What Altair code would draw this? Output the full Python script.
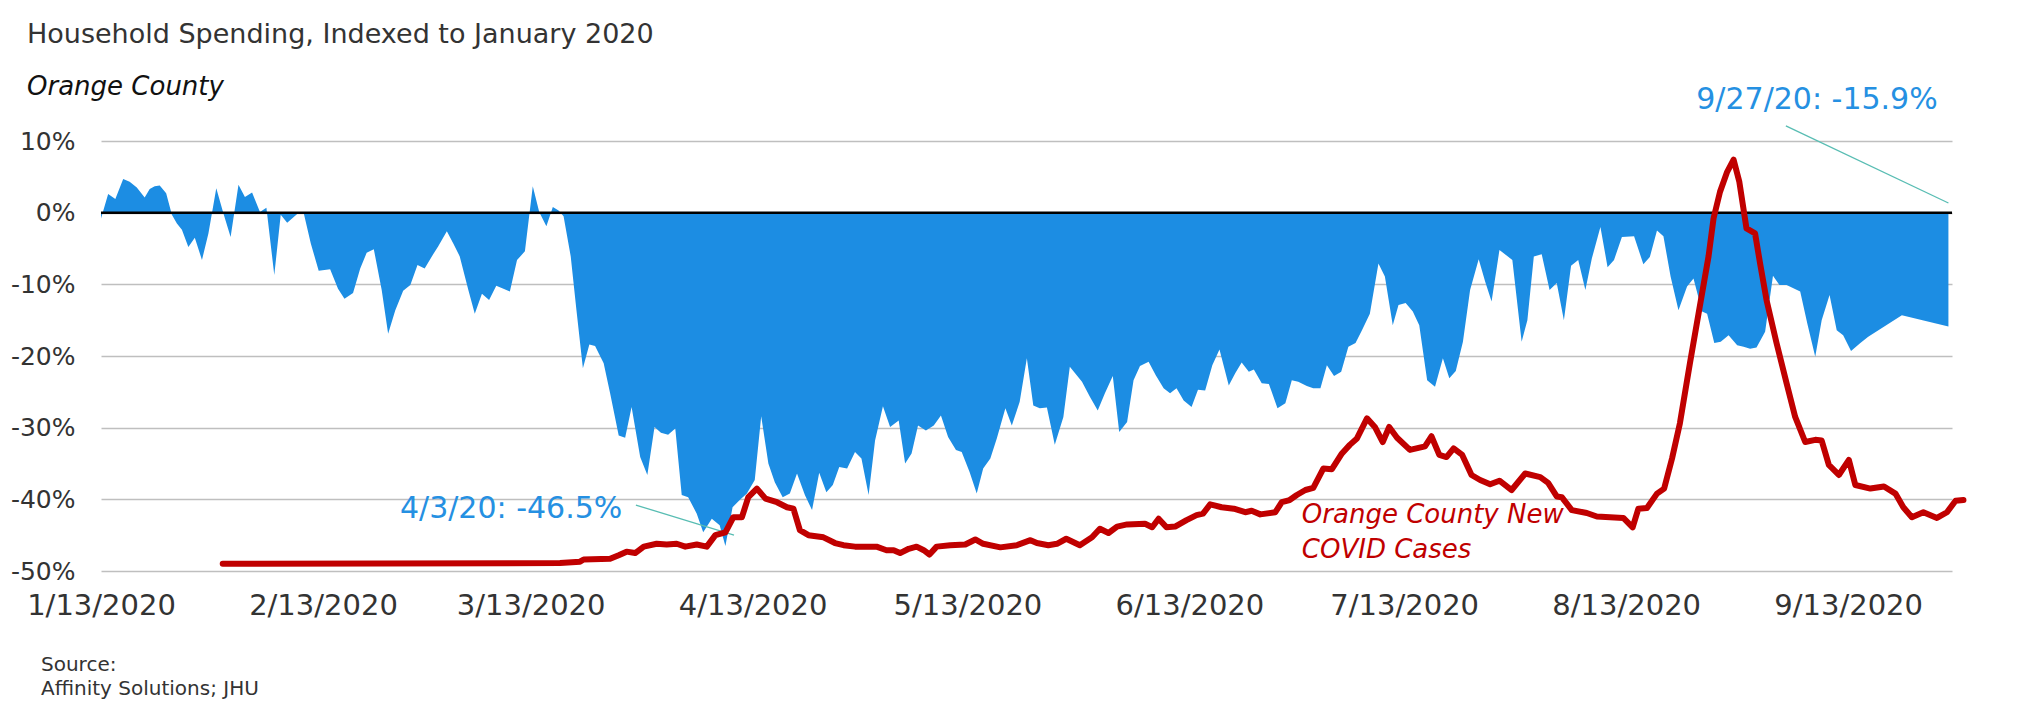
import altair as alt
import pandas as pd

# ---------------- data ----------------
BASE = pd.Timestamp("2020-01-13")

# household spending, % vs January 2020; x = days after 1/13/2020
spend_day = [0.0, 1.0, 2.0, 3.1, 4.0, 5.0, 6.1, 6.8, 7.5, 8.2, 9.1, 9.9, 10.6, 11.3, 12.2, 13.1, 14.1, 15.0,
             16.1, 17.1, 18.1, 19.2, 20.1, 21.1, 22.2, 23.1, 24.2, 25.1, 26.0, 27.4, 28.3, 29.3, 30.4, 32.0,
             33.1, 34.0, 35.2, 36.2, 37.1, 38.1, 39.2, 40.1, 41.1, 42.2, 43.2, 44.2, 45.2, 46.2, 47.1, 48.3,
             49.2, 50.1, 51.3, 52.2, 53.2, 54.2, 55.2, 56.2, 57.1, 58.1, 59.2, 60.3, 61.2, 62.2, 63.1, 63.9,
             64.6, 65.6, 66.4, 67.3, 68.2, 69.0, 70.2, 71.1, 72.3, 73.2, 74.1, 75.3, 76.3, 77.3, 78.2, 79.2,
             80.2, 81.1, 82.0, 83.2, 84.1, 85.3, 86.4, 87.2, 88.2, 89.2, 90.2, 91.3, 92.2, 93.2, 94.1, 95.2,
             96.2, 97.2, 98.3, 99.3, 100.3, 101.3, 102.2, 103.1, 104.2, 105.3, 106.2, 107.2, 108.1, 109.2,
             110.2, 111.4, 112.3, 113.2, 114.1, 115.2, 116.3, 117.3, 118.3, 119.4, 120.2, 121.3, 122.3,
             123.2, 124.2, 125.1, 126.3, 127.2, 128.3, 129.3, 130.2, 131.1, 132.1, 133.2, 134.4, 135.3,
             137.0, 138.1, 139.2, 140.2, 141.3, 142.2, 143.3, 144.2, 145.1, 146.3, 147.3, 148.4, 149.3,
             150.2, 151.2, 152.3, 153.2, 154.2, 155.2, 156.2, 157.5, 158.4, 159.3, 160.3, 161.0, 162.1,
             163.1, 164.3, 165.4, 166.3, 167.2, 168.4, 169.3, 170.3, 171.2, 172.2, 173.2, 174.2, 175.2,
             176.1, 177.2, 178.4, 179.3, 180.4, 181.2, 182.2, 183.2, 184.1, 185.2, 186.3, 187.4, 188.3,
             189.2, 190.2, 191.2, 192.4, 193.3, 194.2, 195.3, 197.1, 198.4, 199.2, 200.1, 201.2, 202.3,
             203.3, 204.3, 205.3, 206.3, 207.3, 208.2, 209.4, 210.4, 211.3, 212.4, 214.1, 215.4, 216.3,
             217.3, 218.2, 219.2, 220.3, 221.5, 222.4, 223.6, 224.3, 225.3, 226.2, 227.3, 228.5, 229.4,
             230.3, 231.2, 232.4, 233.5, 234.4, 235.4, 237.3, 238.3, 239.4, 240.3, 241.4, 242.4, 243.3,
             244.4, 245.7, 246.8, 251.5, 258.0]
spend_pct = [-0.8, 2.6, 1.9, 4.7, 4.3, 3.5, 2.1, 3.3, 3.7, 3.8, 2.7, -0.3, -1.5, -2.4, -4.8, -3.5, -6.6, -2.9,
             3.4, -0.1, -3.4, 3.9, 2.2, 2.8, 0.1, 0.7, -8.7, -0.3, -1.4, -0.2, 0.0, -4.3, -8.1, -7.9,
             -10.6, -12.0, -11.2, -7.8, -5.6, -5.1, -10.8, -16.9, -13.6, -10.9, -10.1, -7.3, -7.8, -6.1, -4.7, -2.6,
             -4.3, -6.1, -10.8, -14.1, -11.3, -12.2, -10.2, -10.6, -11.0, -6.6, -5.4, 3.7, 0.1, -1.9, 0.8, 0.3,
             -0.5, -6.1, -13.6, -21.7, -18.4, -18.6, -21.0, -25.2, -31.1, -31.4, -27.1, -34.1, -36.6, -29.9, -30.7, -31.0,
             -30.1, -39.4, -39.7, -42.0, -44.6, -42.7, -43.6, -46.5, -41.1, -40.1, -39.2, -37.3, -28.4, -35.0, -37.6, -39.7,
             -39.2, -36.4, -39.4, -41.5, -36.3, -39.0, -38.0, -35.5, -35.7, -33.4, -34.3, -39.4, -31.8, -27.0,
             -29.9, -29.0, -35.0, -33.6, -29.7, -30.4, -29.7, -28.3, -31.3, -33.1, -33.4, -36.2, -39.2,
             -35.7, -34.3, -31.5, -27.3, -29.7, -26.4, -20.3, -26.9, -27.3, -27.2, -32.4, -28.5, -21.5,
             -23.6, -25.7, -27.6, -25.2, -22.8, -30.6, -29.2, -23.4, -21.4, -20.8, -22.7, -24.5, -25.2,
             -24.5, -26.2, -27.1, -24.7, -24.8, -21.3, -19.1, -24.1, -22.4, -20.9, -22.2, -21.9, -23.8,
             -23.9, -27.3, -26.6, -23.4, -23.6, -24.2, -24.5, -24.5, -21.3, -22.8, -22.2, -18.7, -18.2,
             -16.4, -14.1, -7.1, -8.9, -15.7, -12.9, -12.6, -13.8, -15.7, -23.4, -24.3, -20.3, -23.1,
             -22.1, -18.0, -10.8, -6.5, -9.6, -12.4, -5.2, -6.6, -18.0, -15.0, -6.1, -5.8, -10.8,
             -9.8, -15.0, -7.4, -6.6, -10.8, -6.4, -2.0, -7.6, -6.6, -3.4, -3.3, -7.2, -6.2,
             -2.5, -3.3, -8.9, -13.6, -10.3, -9.2, -13.8, -14.1, -18.2, -18.0, -17.1, -18.5, -18.7,
             -19.0, -18.8, -16.6, -8.8, -10.1, -10.1, -11.0, -15.5, -20.1, -15.0, -11.5, -16.4, -17.1,
             -19.3, -18.2, -17.3, -14.3, -15.9]

# Orange County new COVID cases (7-day avg, hidden secondary axis)
cases_day = [17.0, 64.1, 66.9, 67.4, 71.1, 72.3, 73.4, 74.6, 75.8, 77.6, 79.0, 80.4, 81.6, 83.2, 84.6, 85.8,
             87.2, 88.3, 89.5, 90.4, 91.6, 92.8, 94.4, 95.8, 96.7, 97.6, 98.8, 100.9, 102.5, 103.7, 105.3,
             108.3, 109.7, 110.7, 111.6, 112.8, 113.9, 114.9, 115.7, 116.7, 118.6, 120.7, 122.1, 123.2,
             125.6, 127.9, 129.8, 130.7, 132.3, 133.5, 134.8, 136.7, 138.4, 139.5, 140.7, 141.9, 143.3,
             145.8, 146.8, 147.7, 148.8, 150.0, 151.6, 153.0, 153.9, 154.9, 156.5, 158.2, 159.8, 160.7,
             161.9, 164.0, 164.9, 166.0, 167.0, 168.2, 169.3, 170.7, 171.9, 173.3, 174.4, 175.4, 176.8,
             177.9, 179.0, 179.9, 181.0, 182.8, 184.9, 185.8, 186.9, 187.9, 188.9, 190.1, 191.4, 192.6,
             194.0, 195.3, 197.0, 198.9, 201.0, 202.1, 203.3, 204.0, 205.4, 207.5, 208.9, 212.6, 213.9,
             214.7, 215.9, 217.3, 218.3, 219.4, 220.5, 221.9, 223.1, 224.5, 225.2, 226.1, 227.1, 228.0,
             228.8, 229.8, 231.0, 231.7, 232.6, 234.0, 235.4, 236.6, 238.0, 239.4, 240.3, 241.3, 242.7,
             244.1, 245.0, 247.1, 249.0, 250.6, 251.7, 252.9, 254.5, 256.4, 257.8, 259.0, 260.1]
cases_new = [0, 2, 6, 12, 14, 24, 34, 30, 48, 56, 54, 56, 48, 54, 48, 80,
             88, 130, 130, 186, 210, 182, 172, 158, 154, 94, 80, 74, 58, 52, 48,
             48, 38, 38, 30, 42, 48, 38, 26, 48, 52, 54, 68, 56,
             46, 52, 66, 58, 52, 56, 70, 52, 74, 98, 86, 104, 110,
             112, 102, 126, 102, 104, 122, 136, 140, 166, 158, 154, 144, 148,
             138, 144, 172, 178, 192, 206, 212, 266, 264, 308, 332, 350, 406,
             382, 340, 382, 352, 318, 328, 356, 304, 298, 322, 304, 248, 234,
             222, 232, 206, 252, 242, 226, 188, 186, 150, 142, 132, 128, 102,
             154, 156, 196, 210, 294, 392, 560, 698, 858, 964, 1038, 1094, 1128,
             1066, 936, 922, 838, 736, 616, 504, 410, 340, 346, 344, 276, 248,
             290, 220, 210, 216, 196, 158, 130, 144, 128, 144, 176, 178]

tick_dates = ["2020-01-13", "2020-02-13", "2020-03-13", "2020-04-13", "2020-05-13",
              "2020-06-13", "2020-07-13", "2020-08-13", "2020-09-13"]
y_ticks = [-50, -40, -30, -20, -10, 0, 10]

TITLE = "Household Spending, Indexed to January 2020"
SUBTITLE = "Orange County"
SOURCE = "Source:\nAffinity Solutions; JHU"
RED_LABEL = "Orange County New\nCOVID Cases"
ANN_LOW = "4/3/20: -46.5%"
ANN_END = "9/27/20: -15.9%"

# ---------------- styling / layout ----------------
BLUE = "#1C8DE3"
LBLUE = "#2590E2"
RED = "#C00000"
TEAL = "#58BDB3"
GREY = "#333333"
FONT = "DejaVu Sans"
W, H = 1851, 430


def when(d):
    return BASE + pd.to_timedelta(d, unit="D")


def dt(d):
    t = when(d)
    return alt.DateTime(year=t.year, month=t.month, date=t.day, hours=t.hour, minutes=t.minute)


spend = pd.DataFrame({"date": when(pd.Series(spend_day)), "pct": spend_pct})
cases = pd.DataFrame({"date": when(pd.Series(cases_day)), "cases": cases_new})

xscale = alt.Scale(domain=[dt(0), dt(258.5)])
xaxis = alt.Axis(
    values=[alt.DateTime(year=int(s[:4]), month=int(s[5:7]), date=int(s[8:])) for s in tick_dates],
    format="%-m/%-d/%Y", labelFont=FONT, labelFontSize=29, labelColor=GREY,
    labelPadding=20, ticks=False, domain=False, grid=False, labelAngle=0,
    labelFlush=False, labelOverlap=False, title=None,
)
yscale = alt.Scale(domain=[-50, 10], nice=False, zero=False)
yaxis = alt.Axis(
    values=y_ticks, labelExpr="datum.value + '%'", labelFont=FONT, labelFontSize=25,
    labelColor=GREY, labelPadding=26, ticks=False, domain=False, grid=True,
    gridColor="#BFBFBF", gridWidth=1.5, title=None,
)

area = alt.Chart(spend).mark_area(color=BLUE, opacity=1, interpolate="linear").encode(
    x=alt.X("date:T", scale=xscale, axis=xaxis),
    y=alt.Y("pct:Q", scale=yscale, axis=yaxis),
    y2=alt.datum(0),
)

zero = alt.Chart(pd.DataFrame({"v": [0]})).mark_rule(color="black", strokeWidth=2.5).encode(
    y=alt.Y("v:Q")
)

lead = pd.DataFrame({
    "x": [when(74.7), when(235.3)], "x2": [when(88.4), when(258.0)],
    "y": [-40.8, 12.1], "y2": [-45.0, 1.35],
})
leaders = alt.Chart(lead).mark_rule(color=TEAL, strokeWidth=1.3).encode(
    x="x:T", x2="x2:T", y="y:Q", y2="y2:Q"
)

ann = pd.DataFrame({"x": [when(72.8), when(256.5)], "y": [-42.6, 14.4], "t": [ANN_LOW, ANN_END]})
ann_text = alt.Chart(ann).mark_text(
    align="right", baseline="alphabetic", font=FONT, fontSize=30, color=LBLUE
).encode(x="x:T", y="y:Q", text="t:N")

red_lab = alt.Chart(pd.DataFrame({"x": [when(167.7)], "y": [-43.3], "t": [RED_LABEL]})).mark_text(
    align="left", baseline="alphabetic", font=FONT, fontSize=26, fontStyle="italic",
    color=RED, lineBreak="\n", lineHeight=35
).encode(x="x:T", y="y:Q", text="t:N")

title = alt.Chart(pd.DataFrame({"t": [TITLE]})).mark_text(
    align="left", baseline="alphabetic", font=FONT, fontSize=27, color=GREY
).encode(x=alt.value(-74), y=alt.value(-98), text="t:N")

subtitle = alt.Chart(pd.DataFrame({"t": [SUBTITLE]})).mark_text(
    align="left", baseline="alphabetic", font=FONT, fontSize=26, fontStyle="italic", color="#111111"
).encode(x=alt.value(-74), y=alt.value(-46), text="t:N")

source = alt.Chart(pd.DataFrame({"t": [SOURCE]})).mark_text(
    align="left", baseline="alphabetic", font=FONT, fontSize=20, color=GREY,
    lineBreak="\n", lineHeight=24
).encode(x=alt.value(-60), y=alt.value(530), text="t:N")

inner = alt.layer(area, zero, leaders, ann_text, red_lab, title, subtitle, source)

red = alt.Chart(cases).mark_line(
    color=RED, strokeWidth=6, strokeCap="round", strokeJoin="round"
).encode(
    x=alt.X("date:T"),
    y=alt.Y("cases:Q", scale=alt.Scale(domain=[-20, 1180], nice=False, zero=False), axis=None),
)

chart = alt.layer(inner, red).resolve_scale(y="independent").properties(
    width=W, height=H,
    autosize=alt.AutoSizeParams(type="none"),
    padding={"left": 93, "top": 133, "right": 75, "bottom": 132},
    background="white",
).configure_view(strokeWidth=0)

chart.save("out.html", embed_options={"renderer": "svg", "actions": False})
